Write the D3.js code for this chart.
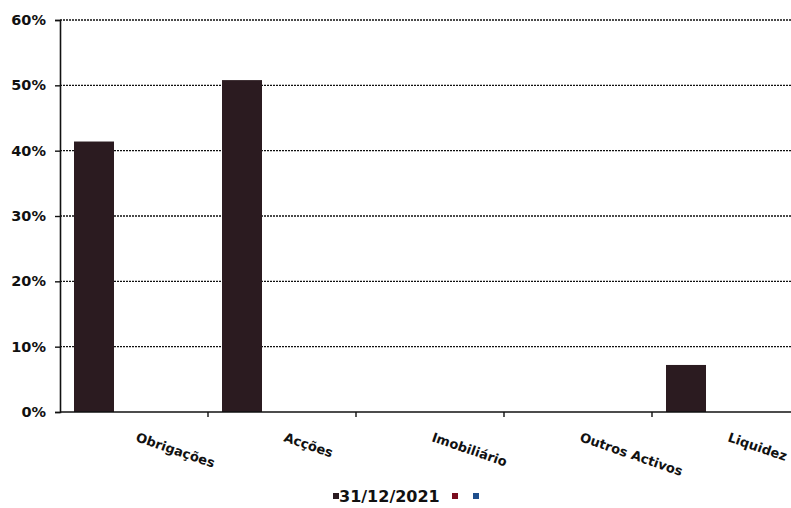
<!DOCTYPE html>
<html>
<head>
<meta charset="utf-8">
<script src="https://cdn.jsdelivr.net/npm/d3@7"></script>
<style>
  html, body { margin: 0; padding: 0; background: #ffffff; }
  svg { display: block; }
  text { font-family: "DejaVu Sans", Verdana, sans-serif; }
</style>
</head>
<body>
<svg id="chart" width="791" height="508"></svg>
<script>
// Asset classes and allocation shares
const categories = ["Obrigações", "Acções", "Imobiliário", "Outros Activos", "Liquidez"];
const seriesNames = ["31/12/2021", "", ""];
const seriesColors = ["#2b1b20", "#7a0c1e", "#1f4e8c"];
const values2021 = [0.414, 0.508, 0, 0, 0.072];
const yTicks = [0, 0.1, 0.2, 0.3, 0.4, 0.5, 0.6];

const svg = d3.select("#chart");
const margin = { left: 60, top: 20, right: -9, bottom: 96 };
const W = 791, H = 508;

const x = d3.scaleBand()
  .domain(categories)
  .range([margin.left, W - margin.right])
  .paddingInner(0).paddingOuter(0);

const y = d3.scaleLinear()
  .domain([0, 0.6])
  .range([H - margin.bottom, margin.top]);

// horizontal dotted grid lines
svg.append("g")
  .selectAll("line")
  .data(yTicks.slice(1))
  .join("line")
  .attr("x1", margin.left)
  .attr("x2", W)
  .attr("y1", d => y(d))
  .attr("y2", d => y(d))
  .attr("stroke", "#111")
  .attr("stroke-width", 1.3)
  .attr("stroke-dasharray", "2,1");

// grouped bars: three series per category, only the first carries values
const sub = d3.scaleBand()
  .domain(d3.range(seriesNames.length))
  .range([0, x.bandwidth()])
  .paddingOuter(0.35)
  .paddingInner(0);

svg.append("g")
  .selectAll("rect")
  .data(categories.map((c, i) => ({ c, v: values2021[i] })).filter(d => d.v > 0))
  .join("rect")
  .attr("x", d => x(d.c) + sub(0))
  .attr("width", sub.bandwidth())
  .attr("y", d => y(d.v))
  .attr("height", d => y(0) - y(d.v))
  .attr("fill", seriesColors[0]);

// y axis
const yAxis = svg.append("g")
  .attr("transform", `translate(${margin.left},0)`)
  .call(d3.axisLeft(y).tickValues(yTicks).tickFormat(d3.format(".0%")).tickSize(5).tickPadding(9));
yAxis.select(".domain").attr("stroke", "#111").attr("stroke-width", 1.6);
yAxis.selectAll(".tick line").attr("stroke", "#111").attr("stroke-width", 1.4);
yAxis.selectAll(".tick text")
  .attr("font-size", 14.5).attr("font-weight", "bold").attr("fill", "#111")
  .attr("font-family", "'DejaVu Sans', Verdana, sans-serif");

// x axis with ticks at category boundaries
const xAxisG = svg.append("g").attr("transform", `translate(0,${y(0)})`);
xAxisG.append("line")
  .attr("x1", margin.left).attr("x2", W)
  .attr("stroke", "#111").attr("stroke-width", 1.6);
xAxisG.selectAll("line.tk")
  .data(categories.slice(1))
  .join("line")
  .attr("class", "tk")
  .attr("x1", d => x(d)).attr("x2", d => x(d))
  .attr("y1", 0).attr("y2", 5)
  .attr("stroke", "#111").attr("stroke-width", 1.4);

// rotated category labels
xAxisG.selectAll("text")
  .data(categories)
  .join("text")
  .attr("transform", d => `translate(${x(d) + x.bandwidth() / 2 + 1},${29}) rotate(19)`)
  .attr("text-anchor", "start")
  .attr("font-size", 13)
  .attr("font-weight", "bold")
  .attr("fill", "#111")
  .text(d => d);

// legend
const legend = svg.append("g").attr("transform", "translate(333,497)");
const legendItems = [
  { name: seriesNames[0], color: seriesColors[0], x: 0 },
  { name: seriesNames[1], color: seriesColors[1], x: 119 },
  { name: seriesNames[2], color: seriesColors[2], x: 140 }
];
legendItems.forEach(it => {
  legend.append("rect")
    .attr("x", it.x).attr("y", -4)
    .attr("width", 6).attr("height", 6)
    .attr("fill", it.color);
  if (it.name) {
    legend.append("text")
      .attr("x", it.x + 6).attr("y", 5)
      .attr("font-size", 16)
      .attr("font-weight", "bold")
      .attr("fill", "#111")
      .text(it.name);
  }
});
</script>
</body>
</html>
